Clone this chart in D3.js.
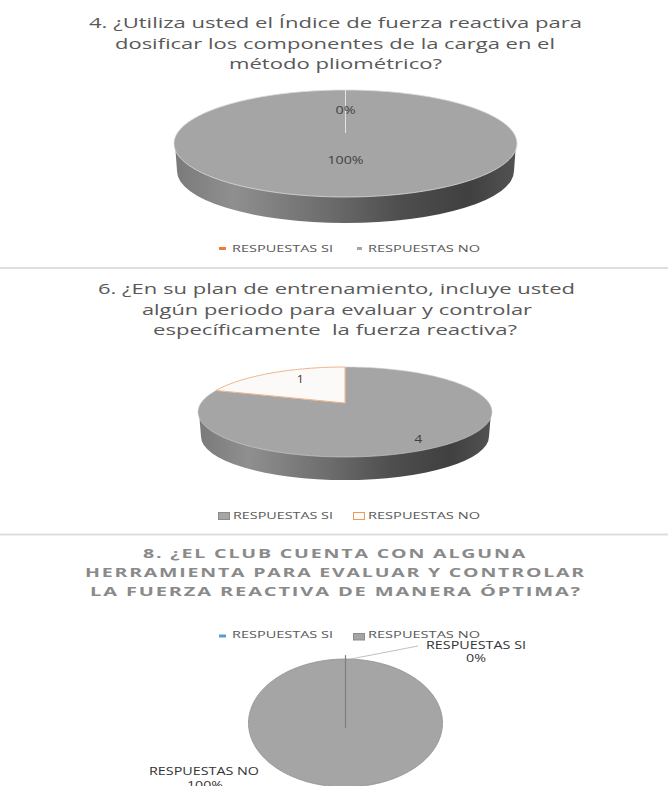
<!DOCTYPE html>
<html lang="es">
<head>
<meta charset="utf-8">
<style>
  html, body { margin: 0; padding: 0; background: #fff; overflow: hidden; }
  svg { display: block; }
  text { font-family: "Open Sans", "Noto Sans", sans-serif; white-space: pre; }
</style>
</head>
<body>
<svg id="chart" width="668" height="786"></svg>
<script src="https://cdn.jsdelivr.net/npm/d3@7"></script>
<script>
// Survey answers, one series per question
const categories = ["RESPUESTAS SI", "RESPUESTAS NO"];
const q4Values = [0, 100];
const q6Values = [4, 1];
const q8Values = [0, 100];

const q4Title = ["4. ¿Utiliza usted el Índice de fuerza reactiva para", "dosificar los componentes de la carga en el", "método pliométrico?"];
const q6Title = ["6. ¿En su plan de entrenamiento, incluye usted", "algún periodo para evaluar y controlar", "específicamente  la fuerza reactiva?"];
const q8Title = ["8. ¿EL CLUB CUENTA CON ALGUNA", "HERRAMIENTA PARA EVALUAR Y CONTROLAR", "LA FUERZA REACTIVA DE MANERA ÓPTIMA?"];

const q4Labels = ["0%", "100%"];
const q6Labels = ["4", "1"];
const q8Labels = ["0%", "100%"];

const svg = d3.select("#chart");
const defs = svg.append("defs");

// Shaded wall of the raised pies
const wall = defs.append("linearGradient").attr("id", "wall");
[[0, "#7a7a7a"], [0.17, "#8f8f8f"], [0.45, "#6c6c6c"], [0.66, "#4e4e4e"], [0.86, "#404040"], [1, "#525252"]]
  .forEach(([o, c]) => wall.append("stop").attr("offset", o).attr("stop-color", c));

const pie = d3.pie().sort(null).value(d => d);
const curve = d3.line().curve(d3.curveLinearClosed);
const open = d3.line();

// Maps a point on the unit disc to the tilted ellipse; k moves the pie's hub towards the far rim
function projector(g) {
  const c = Math.sqrt(1 - g.k * g.k);
  return (angle, r) => {
    const u = r * Math.sin(angle), v = r * Math.cos(angle), w = 1 + g.k * v;
    return [g.cx + g.rx * c * u / w, g.cy - g.ry * (v + g.k) / w];
  };
}

function sliceOutline(p, a0, a1) {
  const n = Math.max(2, Math.ceil(Math.abs(a1 - a0) / 0.02));
  const rim = d3.range(n + 1).map(i => p(a0 + (a1 - a0) * i / n, 1));
  return [p(0, 0), ...rim];
}

function fittedText(parent, str, x0, x1, baseline, style) {
  return parent.append("text")
    .attr("x", x0).attr("y", baseline)
    .attr("textLength", x1 - x0).attr("lengthAdjust", "spacingAndGlyphs")
    .attr("font-size", style.size).attr("font-weight", style.weight || 400)
    .attr("letter-spacing", style.spacing || 0)
    .attr("fill", style.fill)
    .text(str);
}

function drawTitle(lines, spans, style) {
  const g = svg.append("g").attr("class", "title");
  lines.forEach((l, i) => fittedText(g, l, spans[i][0], spans[i][1], spans[i][2], style));
}

function drawLegend(items) {
  const g = svg.append("g").attr("class", "legend");
  items.forEach((it, i) => {
    g.append("rect").attr("x", it.box[0]).attr("y", it.box[1]).attr("width", it.box[2]).attr("height", it.box[3])
      .attr("fill", it.fill).attr("stroke", it.stroke || "none").attr("stroke-width", it.stroke ? 1 : 0);
    fittedText(g, categories[i], it.text[0], it.text[1], it.text[2], { size: 9.5, fill: "#595959" });
  });
}

function drawPie(values, geom, style) {
  const p = projector(geom);
  const g = svg.append("g").attr("class", "pie");
  if (geom.depth) {
    const { cx, cy, rx, ry, depth, inset } = geom;
    const bottomRy = ry - 1.5, bottomCy = cy + depth - bottomRy + ry;
    const rxB = rx - inset;
    g.append("path")
      .attr("d", `M${cx - rx + 1},${cy} L${cx - rxB},${bottomCy} A${rxB},${bottomRy} 0 0 0 ${cx + rxB},${bottomCy} L${cx + rx - 1},${cy} Z`)
      .attr("fill", "url(#wall)");
  }
  pie(values).forEach((d, i) => {
    const s = style[i];
    const a0 = d.startAngle, a1 = d.endAngle;
    if (a1 - a0 < 1e-6) return;
    g.append("path").attr("d", curve(sliceOutline(p, a0, a1)))
      .attr("fill", s.fill).attr("stroke", s.stroke || "none").attr("stroke-width", s.width || 0);
  });
  return { g, p, arcs: pie(values) };
}

const labelStyle = { size: 10, fill: "#404040" };

// Centred value label, set at a share of the radius along the slice's middle angle
function valueLabel(g, p, arc, text, radius, dx, dy, width) {
  const [x, y] = p((arc.startAngle + arc.endAngle) / 2, radius);
  fittedText(g, text, x + dx - width / 2, x + dx + width / 2, y + dy + 3.5, labelStyle);
}

// Question 4
drawTitle(q4Title, [[89, 582, 28], [115, 555, 49], [229, 442, 69]], { size: 14.5, fill: "#595959" });
{
  const { g, p, arcs } = drawPie(q4Values,
    { cx: 345.5, cy: 143.5, rx: 171.5, ry: 53.5, k: 0.196, depth: 26, inset: 3 },
    [{ fill: "#ed7d31" }, { fill: "#a5a5a5", stroke: "#dcdcdc", width: 0.8 }]);
  g.append("path").attr("d", open([p(0, 1), p(0, 0)])).attr("stroke", "#e4e4e4").attr("stroke-width", 1).attr("fill", "none");
  valueLabel(g, p, arcs[0], q4Labels[0], 0.49, 0, 0, 20);
  valueLabel(g, p, arcs[1], q4Labels[1], 0.49, 0, 0, 36);
}
drawLegend([
  { box: [219, 247, 7, 3], fill: "#ed7d31", text: [232, 333, 252] },
  { box: [357, 247, 5, 3], fill: "#a5a5a5", text: [368, 480, 252] }
]);
svg.append("rect").attr("x", 0).attr("y", 267).attr("width", 668).attr("height", 2).attr("fill", "#dedede");

// Question 6
drawTitle(q6Title, [[98, 575, 294], [142, 532, 315], [153, 517, 335]], { size: 14.5, fill: "#595959" });
{
  const { g, p, arcs } = drawPie(q6Values,
    { cx: 345, cy: 412, rx: 147, ry: 45, k: 0.2, depth: 23, inset: 3 },
    [{ fill: "#a5a5a5", stroke: "#d0d0d0", width: 0.6 }, { fill: "#fcfaf8", stroke: "#eeb48c", width: 1 }]);
  valueLabel(g, p, arcs[0], q6Labels[0], 0.9, -16, 0, 8);
  valueLabel(g, p, arcs[1], q6Labels[1], 0.65, 5, -3, 7);
}
drawLegend([
  { box: [218.5, 512.5, 11, 7], fill: "#a5a5a5", stroke: "#8c8c8c", text: [233, 333, 519] },
  { box: [353.5, 512.5, 11, 7], fill: "#fdfaf7", stroke: "#ed9a60", text: [368, 480, 519] }
]);
svg.append("rect").attr("x", 0).attr("y", 533.5).attr("width", 668).attr("height", 2).attr("fill", "#dedede");

// Question 8
drawTitle(q8Title, [[143, 527, 558], [85, 586, 577], [90, 582, 596]], { size: 13, weight: 700, spacing: 1.2, fill: "#8a8a8a" });
drawLegend([
  { box: [219, 634.5, 7, 3], fill: "#5b9bd5", text: [232, 333, 638] },
  { box: [353.5, 633.5, 11, 6.5], fill: "#a5a5a5", stroke: "#8c8c8c", text: [368, 480, 638] }
]);
{
  const { g, p } = drawPie(q8Values,
    { cx: 345.5, cy: 723, rx: 97, ry: 64, k: 0, depth: 0 },
    [{ fill: "#5b9bd5" }, { fill: "#a5a5a5", stroke: "#8f8f8f", width: 0.8 }]);
  const hub = p(0, 0);
  g.append("path").attr("d", open([p(0, 1.06), [hub[0], hub[1] + 5]])).attr("stroke", "#7f7f7f").attr("stroke-width", 1.2).attr("fill", "none");
  // Leader from the zero slice out to its callout
  g.append("path").attr("d", open([p(0.05, 1), [418, 646]])).attr("stroke", "#b0b0b0").attr("stroke-width", 0.8).attr("fill", "none");
  const callout = { size: 10, weight: 500, fill: "#333333" };
  fittedText(g, categories[0], 426, 526, 649, callout);
  fittedText(g, q8Labels[0], 466, 486, 662, callout);
  fittedText(g, categories[1], 149, 259, 775, callout);
  fittedText(g, q8Labels[1], 187, 223, 789, callout);
}
</script>
</body>
</html>
